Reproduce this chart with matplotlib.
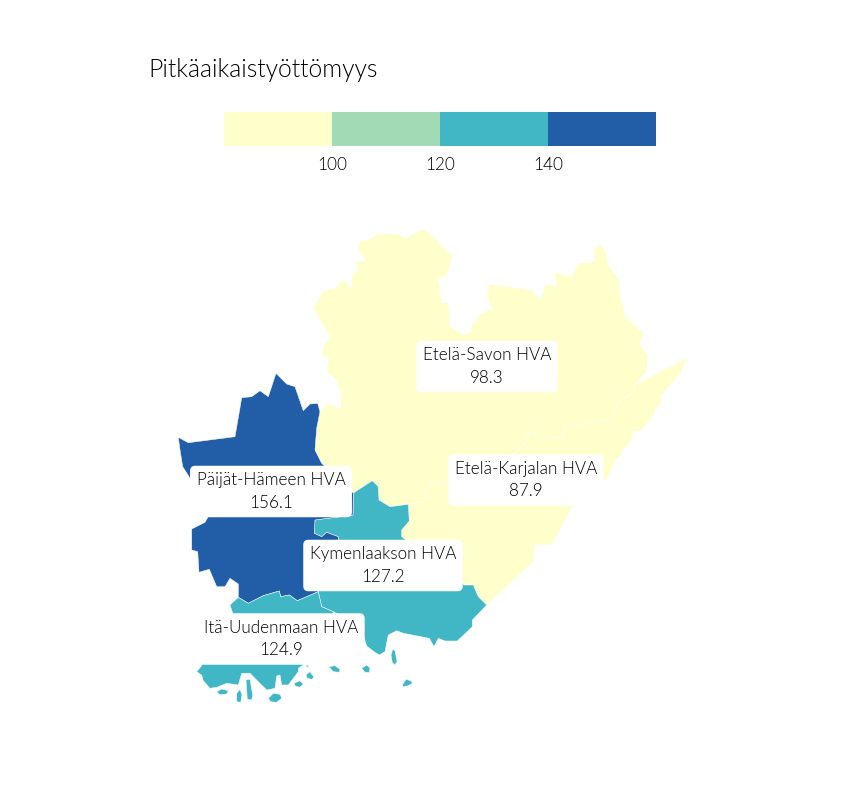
import matplotlib
matplotlib.use('Agg')
import matplotlib.pyplot as plt
from matplotlib.colors import BoundaryNorm, ListedColormap
from matplotlib.patches import Polygon

plt.rcParams['font.family'] = ['Lato', 'DejaVu Sans']
plt.rcParams['font.weight'] = 300

title = 'Pitkäaikaistyöttömyys'
breaks = [80, 100, 120, 140, 160]
tick_values = [100, 120, 140]
class_colors = ['#ffffcc', '#a1dab4', '#41b6c4', '#225ea8']

region_names = ['Etelä-Savon HVA', 'Etelä-Karjalan HVA', 'Kymenlaakson HVA',
                'Päijät-Hämeen HVA', 'Itä-Uudenmaan HVA']
region_values = [98.3, 87.9, 127.2, 156.1, 124.9]
label_centers = [(487, 366.5), (526, 480), (383, 565.5), (271, 491.5), (281, 639)]

# outlines are map coordinates (y grows downwards)
savo_north = [(425, 229.3), (452.7, 256), (447.3, 275), (438.3, 278.3), (441.7, 302.7),
              (448.3, 302.7), (450.7, 326.7), (463.3, 335), (471, 331.7), (471.7, 323.3),
              (477.7, 321.7), (477.7, 316), (491.7, 308.3), (486.7, 296.7), (489, 284),
              (531.7, 290), (540.7, 300), (545.7, 284), (556.7, 287.3), (555, 272.3),
              (571.7, 276.7), (578.3, 263.3), (594, 261.7), (594, 250), (599, 244),
              (605.3, 250), (608.3, 265), (619, 280), (620, 296.7), (626, 317.3),
              (643.3, 332.7), (640, 345), (648, 355), (646.7, 371.7)]
savo_karjala_border = [(635, 385), (635, 391.7), (620, 401.7), (609.3, 420), (565, 425.7),
                       (562.7, 437.3), (539.3, 438.3), (528.7, 431.7), (527.3, 441.7),
                       (516, 452.3), (447, 482), (430, 482.3), (424, 501.7), (408.3, 504.3)]
savo_kymi_border = [(408.3, 504.3), (390, 506.7), (379, 500), (378.3, 486.7), (372.3, 480.7)]
savo_paijat_border = [(353.3, 493), (321.7, 463.3), (315, 450), (316.7, 428.3), (320, 411.7)]
savo_west = [(326.7, 403.3), (340.7, 409), (341.3, 393.3), (335, 378.3), (327.3, 372.7),
             (328, 360), (328.3, 356.7), (322.3, 356.7), (323.3, 345), (331, 338.3),
             (313.3, 308.3), (322.7, 291.7), (335, 287.7), (343.3, 279.3), (351, 288.3),
             (352.3, 275), (357.3, 270), (356, 262.3), (366, 260), (357.3, 249.3),
             (360, 240.7), (368.3, 240), (376.7, 234), (398.3, 234), (406, 238.3),
             (416.7, 231.7)]
karjala_east = [(690, 356), (685, 361.7), (681.7, 371.7), (661.7, 395), (661.7, 401.7),
                (655, 410), (655, 413.3), (641, 431), (632.3, 431.7), (632.3, 438.3),
                (615, 461.7), (606, 480), (572, 507), (552, 545), (535, 545), (533, 562),
                (486.7, 605)]
kymi_karjala_border = [(486.7, 605), (478.3, 596.7), (473.3, 585), (464, 585), (401.7, 536.7),
                       (401.7, 530), (409.3, 521), (408.3, 504.3)]
kymi_coast = [(486.7, 605), (472.3, 620), (472.3, 626.7), (457.3, 641), (445, 641),
              (438.3, 638.3), (434, 646.7), (429.3, 638.3), (403.3, 633.3), (396.7, 630.7),
              (388.3, 635), (385, 651.7), (379.3, 655), (374, 651.7), (366.7, 646),
              (360, 625)]
kymi_uusimaa_border = [(333.3, 611.7), (321.7, 606.7), (318.3, 591.7)]
kymi_paijat_border = [(318.3, 591.7), (338, 560), (338.3, 536.7), (326.7, 532.3), (321.7, 536.7),
                      (314.3, 533.3), (315, 520), (353, 515), (353.3, 493)]
paijat_north = [(320, 411.7), (317.7, 403.3), (310, 404), (303.3, 410.7), (295, 386.7),
                (286.7, 384), (276, 373.3), (268.3, 396.7), (260, 390.7), (251.7, 396.7),
                (241.7, 397.7), (235, 436.7), (188.3, 442.7), (178.3, 437.3), (180, 450),
                (182.7, 466.7), (189, 476.7), (208, 517), (205, 522.3), (191.7, 529),
                (191.7, 550), (197.7, 551.7), (199, 572.3), (209.3, 569.3), (216.7, 586.7),
                (225, 586.7), (230, 578.3), (238.3, 584), (238.3, 597.3)]
paijat_uusimaa_border = [(238.3, 597.3), (248.3, 603.3), (263.3, 595.7), (279.3, 591),
                         (280.7, 596.7), (289.3, 595), (297.3, 600.7), (308.3, 596), (318.3, 591.7)]
uusimaa_coast = [(340, 640), (298.3, 668.3), (298.3, 671.7), (288.3, 685), (281.7, 685), (280, 675),
                 (276.7, 676), (275, 688.3), (266.7, 690), (258.3, 681.7), (250, 673.3),
                 (241.7, 673.3), (238.3, 685), (226.7, 683.3), (216.7, 687.3), (210, 688.3),
                 (203.3, 680.7), (201.7, 675), (196.7, 671.7), (201.7, 665.7), (204, 640),
                 (233, 614), (230, 605)]
uusimaa_islands = [
    [(392.7, 649.3), (395, 650.7), (397, 661.7), (395, 664.7), (392.3, 662.7), (391, 655)],
    [(402.3, 685), (406, 679.3), (410.7, 680.7), (412.7, 683.3), (407.3, 686), (403.3, 686.7)],
    [(361.7, 668.3), (366.7, 665), (370, 668.3), (369.3, 672.3), (365, 672.3)],
    [(329, 666.7), (335, 665.7), (340, 669.3), (339.3, 672.3), (333.3, 671.7)],
    [(306, 675), (310, 671.7), (314, 677.3), (311.7, 679.3), (307.3, 678.3)],
    [(294, 683.3), (300, 680.7), (303.3, 684), (300, 687.3), (295.3, 686)],
    [(268.3, 698.3), (273.3, 693.3), (280, 694.3), (281.7, 698.3), (276.7, 702.3), (270.7, 701.7)],
    [(246, 680), (250, 679.3), (252.7, 695), (251.7, 700), (247.3, 699.3)],
    [(236.7, 693.3), (240, 689.3), (242, 695), (240.7, 702.3), (236.7, 701.7)],
    [(216.7, 691.7), (221.7, 689), (228.3, 690.7), (226.7, 694), (220, 694.7)],
    [(305, 665), (309.3, 665.7), (307.3, 667.3)],
]

region_shapes = [
    [savo_north + savo_karjala_border + savo_kymi_border + savo_paijat_border + savo_west],
    [savo_karjala_border[:1] + karjala_east + kymi_karjala_border + savo_karjala_border[::-1]],
    [savo_kymi_border[::-1] + kymi_karjala_border[::-1] + kymi_coast + kymi_uusimaa_border
     + kymi_paijat_border],
    [savo_paijat_border + paijat_north + paijat_uusimaa_border + kymi_paijat_border],
    [paijat_uusimaa_border + kymi_uusimaa_border[::-1] + uusimaa_coast] + uusimaa_islands,
]

cmap = ListedColormap(class_colors)
norm = BoundaryNorm(breaks, cmap.N)

fig = plt.figure(figsize=(8.64, 7.92), dpi=100)

# map, axes spans the whole figure so map units line up with the layout
ax = fig.add_axes([0, 0, 1, 1])
ax.set_xlim(0, 864)
ax.set_ylim(792, 0)
ax.axis('off')

for shapes, value in zip(region_shapes, region_values):
    for shape in shapes:
        ax.add_patch(Polygon(shape, closed=True, facecolor=cmap(norm(value)),
                             edgecolor='white', linewidth=0.35, joinstyle='round'))

for name, value, (x, y) in zip(region_names, region_values, label_centers):
    ax.text(x, y, f'{name}\n{value}', ha='center', va='center', fontsize=12.3,
            color='black', linespacing=1.5, zorder=5,
            bbox=dict(boxstyle='round,pad=0.38,rounding_size=0.3', facecolor='white',
                      edgecolor='none'))

fig.text(148 / 864, 1 - 70 / 792, title, fontsize=17.8, color='black', ha='left', va='center')

# legend bar
cax = fig.add_axes([224 / 864, 1 - 146 / 792, 432 / 864, 34 / 792])
cax.barh(0, [b - a for a, b in zip(breaks[:-1], breaks[1:])], left=breaks[:-1], height=1,
         color=class_colors, linewidth=0)
cax.set_xlim(breaks[0], breaks[-1])
cax.set_ylim(-0.5, 0.5)
cax.set_yticks([])
cax.set_xticks(tick_values)
cax.tick_params(axis='x', length=0, pad=8, labelsize=12.3, labelcolor='black')
for spine in cax.spines.values():
    spine.set_visible(False)

fig.savefig('out.png', dpi=100)
